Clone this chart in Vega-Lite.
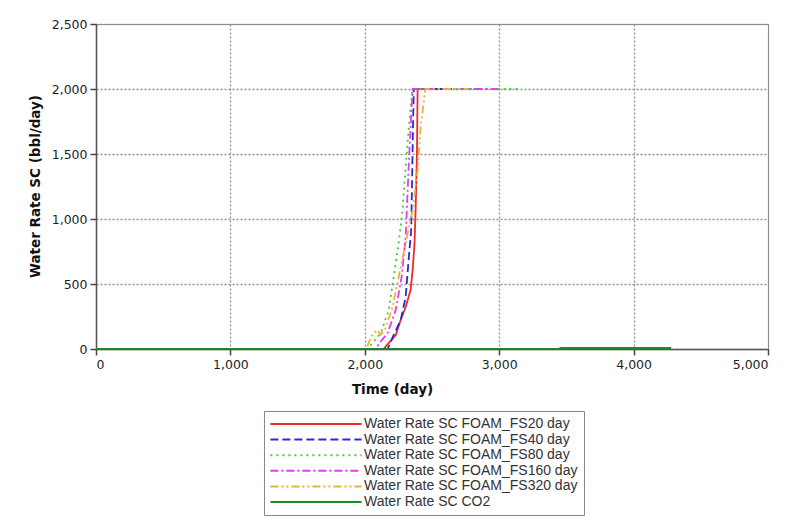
{
  "$schema": "https://vega.github.io/schema/vega-lite/v6.json",
  "autosize": {"type": "none"},
  "padding": {"left": 96, "top": 24, "right": 20, "bottom": 174},
  "width": 672,
  "height": 325,
  "background": "white",
  "data": {"values": [
    {"series": "Water Rate SC FOAM_FS20 day", "t": 0, "rate": 0},
    {"series": "Water Rate SC FOAM_FS20 day", "t": 2140, "rate": 0},
    {"series": "Water Rate SC FOAM_FS20 day", "t": 2190, "rate": 60},
    {"series": "Water Rate SC FOAM_FS20 day", "t": 2230, "rate": 108},
    {"series": "Water Rate SC FOAM_FS20 day", "t": 2267, "rate": 223},
    {"series": "Water Rate SC FOAM_FS20 day", "t": 2304, "rate": 323},
    {"series": "Water Rate SC FOAM_FS20 day", "t": 2341, "rate": 454},
    {"series": "Water Rate SC FOAM_FS20 day", "t": 2356, "rate": 608},
    {"series": "Water Rate SC FOAM_FS20 day", "t": 2370, "rate": 815},
    {"series": "Water Rate SC FOAM_FS20 day", "t": 2378, "rate": 1069},
    {"series": "Water Rate SC FOAM_FS20 day", "t": 2388, "rate": 1500},
    {"series": "Water Rate SC FOAM_FS20 day", "t": 2393, "rate": 2000},
    {"series": "Water Rate SC FOAM_FS20 day", "t": 2500, "rate": 2000},
    {"series": "Water Rate SC FOAM_FS40 day", "t": 0, "rate": 0},
    {"series": "Water Rate SC FOAM_FS40 day", "t": 2170, "rate": 0},
    {"series": "Water Rate SC FOAM_FS40 day", "t": 2215, "rate": 108},
    {"series": "Water Rate SC FOAM_FS40 day", "t": 2267, "rate": 223},
    {"series": "Water Rate SC FOAM_FS40 day", "t": 2304, "rate": 400},
    {"series": "Water Rate SC FOAM_FS40 day", "t": 2326, "rate": 685},
    {"series": "Water Rate SC FOAM_FS40 day", "t": 2345, "rate": 915},
    {"series": "Water Rate SC FOAM_FS40 day", "t": 2352, "rate": 1300},
    {"series": "Water Rate SC FOAM_FS40 day", "t": 2358, "rate": 1685},
    {"series": "Water Rate SC FOAM_FS40 day", "t": 2365, "rate": 2000},
    {"series": "Water Rate SC FOAM_FS40 day", "t": 2650, "rate": 2000},
    {"series": "Water Rate SC FOAM_FS80 day", "t": 0, "rate": 0},
    {"series": "Water Rate SC FOAM_FS80 day", "t": 2020, "rate": 0},
    {"series": "Water Rate SC FOAM_FS80 day", "t": 2060, "rate": 50},
    {"series": "Water Rate SC FOAM_FS80 day", "t": 2119, "rate": 123},
    {"series": "Water Rate SC FOAM_FS80 day", "t": 2178, "rate": 300},
    {"series": "Water Rate SC FOAM_FS80 day", "t": 2215, "rate": 554},
    {"series": "Water Rate SC FOAM_FS80 day", "t": 2252, "rate": 815},
    {"series": "Water Rate SC FOAM_FS80 day", "t": 2281, "rate": 1069},
    {"series": "Water Rate SC FOAM_FS80 day", "t": 2304, "rate": 1400},
    {"series": "Water Rate SC FOAM_FS80 day", "t": 2326, "rate": 1685},
    {"series": "Water Rate SC FOAM_FS80 day", "t": 2355, "rate": 2000},
    {"series": "Water Rate SC FOAM_FS80 day", "t": 3150, "rate": 2000},
    {"series": "Water Rate SC FOAM_FS160 day", "t": 0, "rate": 0},
    {"series": "Water Rate SC FOAM_FS160 day", "t": 2080, "rate": 0},
    {"series": "Water Rate SC FOAM_FS160 day", "t": 2120, "rate": 60},
    {"series": "Water Rate SC FOAM_FS160 day", "t": 2170, "rate": 123},
    {"series": "Water Rate SC FOAM_FS160 day", "t": 2230, "rate": 300},
    {"series": "Water Rate SC FOAM_FS160 day", "t": 2274, "rate": 554},
    {"series": "Water Rate SC FOAM_FS160 day", "t": 2304, "rate": 861},
    {"series": "Water Rate SC FOAM_FS160 day", "t": 2319, "rate": 1223},
    {"series": "Water Rate SC FOAM_FS160 day", "t": 2333, "rate": 1554},
    {"series": "Water Rate SC FOAM_FS160 day", "t": 2356, "rate": 2000},
    {"series": "Water Rate SC FOAM_FS160 day", "t": 2990, "rate": 2000},
    {"series": "Water Rate SC FOAM_FS320 day", "t": 0, "rate": 0},
    {"series": "Water Rate SC FOAM_FS320 day", "t": 2010, "rate": 0},
    {"series": "Water Rate SC FOAM_FS320 day", "t": 2050, "rate": 100},
    {"series": "Water Rate SC FOAM_FS320 day", "t": 2090, "rate": 146},
    {"series": "Water Rate SC FOAM_FS320 day", "t": 2120, "rate": 110},
    {"series": "Water Rate SC FOAM_FS320 day", "t": 2155, "rate": 160},
    {"series": "Water Rate SC FOAM_FS320 day", "t": 2207, "rate": 323},
    {"series": "Water Rate SC FOAM_FS320 day", "t": 2252, "rate": 554},
    {"series": "Water Rate SC FOAM_FS320 day", "t": 2304, "rate": 815},
    {"series": "Water Rate SC FOAM_FS320 day", "t": 2356, "rate": 1069},
    {"series": "Water Rate SC FOAM_FS320 day", "t": 2393, "rate": 1377},
    {"series": "Water Rate SC FOAM_FS320 day", "t": 2415, "rate": 1700},
    {"series": "Water Rate SC FOAM_FS320 day", "t": 2450, "rate": 2000},
    {"series": "Water Rate SC FOAM_FS320 day", "t": 2770, "rate": 2000},
    {"series": "Water Rate SC CO2", "t": 0, "rate": 0},
    {"series": "Water Rate SC CO2", "t": 3440, "rate": 0},
    {"series": "Water Rate SC CO2", "t": 3460, "rate": 8},
    {"series": "Water Rate SC CO2", "t": 4280, "rate": 8}
  ]},
  "encoding": {
    "x": {"field": "t", "type": "quantitative",
      "scale": {"domain": [0, 5000], "nice": false},
      "axis": {"title": "Time (day)", "values": [0, 1000, 2000, 3000, 4000, 5000], "format": ",d",
        "titleX": 296, "titleY": 40, "titleBaseline": "middle"}},
    "y": {"field": "rate", "type": "quantitative",
      "scale": {"domain": [0, 2500], "nice": false},
      "axis": {"title": "Water Rate SC (bbl/day)", "values": [0, 500, 1000, 1500, 2000, 2500], "format": ",d",
        "titleX": -61, "titleY": 162, "titleBaseline": "middle", "titleAngle": 270, "titleAlign": "center"}},
    "color": {"field": "series", "type": "nominal",
      "scale": {
        "domain": ["Water Rate SC FOAM_FS20 day", "Water Rate SC FOAM_FS40 day", "Water Rate SC FOAM_FS80 day", "Water Rate SC FOAM_FS160 day", "Water Rate SC FOAM_FS320 day", "Water Rate SC CO2"],
        "range": ["#ee2a2a", "#2a2ad8", "#3ccc3c", "#e63ce6", "#f0b038", "#1f8a2a"]},
      "legend": {"title": null}},
    "strokeDash": {"field": "series", "type": "nominal",
      "scale": {
        "domain": ["Water Rate SC FOAM_FS20 day", "Water Rate SC FOAM_FS40 day", "Water Rate SC FOAM_FS80 day", "Water Rate SC FOAM_FS160 day", "Water Rate SC FOAM_FS320 day", "Water Rate SC CO2"],
        "range": [[1, 0], [8, 4], [2, 4], [8, 3, 2, 3], [8, 3, 2, 3, 2, 3], [1, 0]]},
      "legend": {"title": null}}
  },
  "layer": [
    {"transform": [{"filter": "datum.series !== 'Water Rate SC CO2'"}],
     "mark": {"type": "line", "strokeWidth": 1.8, "clip": true}},
    {"transform": [{"filter": "datum.series === 'Water Rate SC CO2'"}],
     "mark": {"type": "line", "strokeWidth": 2, "clip": true}}
  ],
  "config": {
    "view": {"stroke": "#8a8a8a", "strokeWidth": 1},
    "axis": {
      "domainColor": "#555", "domainWidth": 1.5,
      "tickColor": "#444", "tickSize": 6, "tickWidth": 1.5,
      "grid": true, "gridColor": "#8f8f8f", "gridDash": [2, 2], "gridWidth": 1.3,
      "labelFont": "DejaVu Sans", "labelFontSize": 12.5, "labelColor": "#1e1e1e", "labelPadding": 3,
      "titleFont": "DejaVu Sans", "titleFontSize": 13.5, "titleFontWeight": "bold", "titleColor": "#111"
    },
    "legend": {
      "orient": "none", "legendX": 168, "legendY": 387, "direction": "vertical",
      "strokeColor": "#888", "fillColor": "white", "padding": 6,
      "symbolType": "M-7.6,0H7.6", "symbolSize": 144, "symbolStrokeWidth": 2,
      "symbolOffset": 39, "labelOffset": 41,
      "labelFont": "Liberation Sans", "labelFontSize": 14, "labelColor": "#333",
      "rowPadding": 1.6, "labelLimit": 400
    }
  }
}
